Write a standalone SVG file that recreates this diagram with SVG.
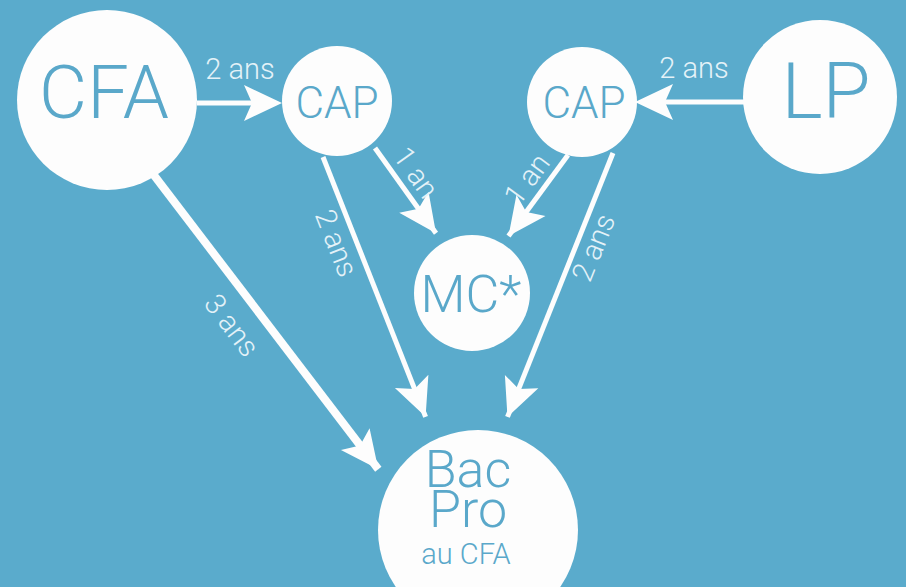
<svg xmlns="http://www.w3.org/2000/svg" width="906" height="587" viewBox="0 0 906 587">
  <style>
    .node circle { fill: #fdfdfd; }
    .node text { fill: #5aa8ca; font-family: Roboto, "Liberation Sans", Arial, sans-serif; font-weight: 300; text-anchor: middle; }
    .conn line { stroke: #fdfdfd; stroke-width: 5; stroke-linecap: butt; }
    .conn line.thick { stroke-width: 8; }
    .head { fill: #fdfdfd; }
    .lbl { fill: #e4f2f8; font-family: Roboto, "Liberation Sans", Arial, sans-serif; font-weight: 300; font-size: 29px; text-anchor: middle; }
  </style>
  <defs>
    <marker id="ah" markerUnits="userSpaceOnUse" viewBox="-44 -24 48 48" markerWidth="48" markerHeight="48" refX="0" refY="0" orient="auto" overflow="visible">
      <path d="M0,0 L-38,-18 L-30,0 L-38,18 Z" fill="#fdfdfd"/>
    </marker>
  </defs>
  <rect width="906" height="587" fill="#5aabcc"/>

  <g id="connectors" class="conn">
    <line x1="197" y1="103" x2="270" y2="103"/>
    <path class="head" d="M282,103 L244,85 L252,103 L244,121 Z"/>
    <line x1="744" y1="102" x2="647" y2="102"/>
    <path class="head" d="M635,102 L673,84 L665,102 L673,120 Z"/>
    <line x1="375" y1="148" x2="436" y2="233.2" marker-end="url(#ah)"/>
    <line x1="568" y1="155" x2="508.5" y2="236.1" marker-end="url(#ah)"/>
    <line x1="323" y1="157" x2="425.6" y2="416.8" marker-end="url(#ah)"/>
    <line x1="613" y1="153" x2="507.5" y2="416.9" marker-end="url(#ah)"/>
    <line class="thick" x1="150" y1="170" x2="378.3" y2="469.3" marker-end="url(#ah)"/>
  </g>

  <g id="labels">
    <text class="lbl" x="240" y="79">2 ans</text>
    <text class="lbl" x="694" y="78">2 ans</text>
    <text class="lbl" transform="translate(375,148) rotate(54.4)" x="44" y="-9">1 an</text>
    <text class="lbl" transform="translate(502,245) rotate(-53.7)" x="68" y="-9">1 an</text>
    <text class="lbl" transform="translate(323,157) rotate(68.5)" x="85" y="29">2 ans</text>
    <text class="lbl" transform="translate(503,428) rotate(-68.2)" x="201" y="27">2 ans</text>
    <text class="lbl" transform="translate(150,170) rotate(52.7)" x="173" y="39">3 ans</text>
  </g>

  <g id="node-cfa" class="node">
    <circle cx="107" cy="100" r="90"/>
    <text x="104" y="118" font-size="74">CFA</text>
  </g>
  <g id="node-cap-left" class="node">
    <circle cx="337" cy="101" r="55"/>
    <text x="337" y="118" font-size="44">CAP</text>
  </g>
  <g id="node-cap-right" class="node">
    <circle cx="582" cy="102" r="55"/>
    <text x="584" y="118" font-size="44">CAP</text>
  </g>
  <g id="node-lp" class="node">
    <circle cx="820" cy="97" r="77"/>
    <text x="826" y="118" font-size="78">LP</text>
  </g>
  <g id="node-mc" class="node">
    <circle cx="472" cy="293" r="58"/>
    <text x="471" y="312" font-size="52">MC*</text>
  </g>
  <g id="node-bacpro" class="node">
    <circle cx="478" cy="530" r="100"/>
    <text x="468" y="487" font-size="52">Bac<tspan x="468" y="527">Pro</tspan><tspan x="466" y="564" font-size="29">au CFA</tspan></text>
  </g>
</svg>
